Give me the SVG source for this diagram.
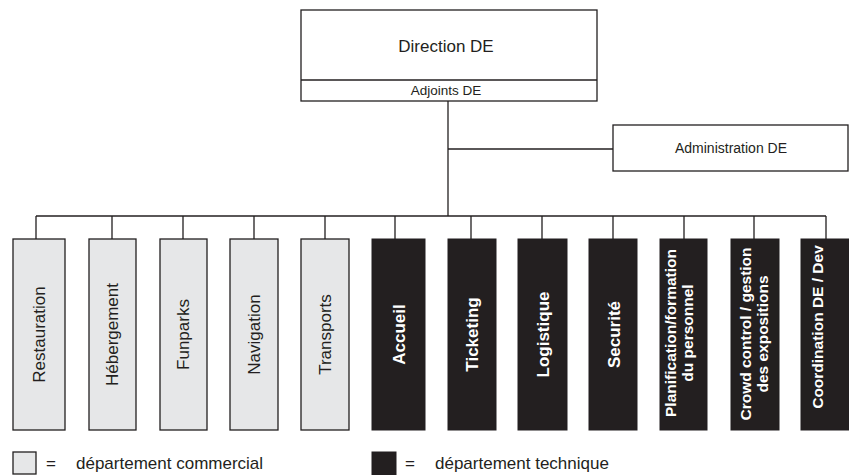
<svg xmlns="http://www.w3.org/2000/svg" width="849" height="475" viewBox="0 0 849 475">
<style>
  .box { fill: #ffffff; stroke: #231f20; stroke-width: 1.3; }
  .lt { fill: #e6e7e8; stroke: #231f20; stroke-width: 1.3; }
  .dk { fill: #231f20; stroke: #231f20; stroke-width: 1; }
  .ln { stroke: #231f20; stroke-width: 1.3; fill: none; }
  text { font-family: "Liberation Sans", Arial, sans-serif; }
  .tl { font-size: 17px; fill: #231f20; text-anchor: middle; }
  .tw { font-size: 17px; fill: #ffffff; font-weight: bold; text-anchor: middle; }
  .tw2 { font-size: 15.5px; fill: #ffffff; font-weight: bold; text-anchor: middle; }
  .lg { font-size: 17px; fill: #231f20; }
</style>
<g id="connectors">
  <path class="ln" d="M448 101 V216"/>
  <path class="ln" d="M448 149 H613"/>
  <path class="ln" d="M36 216 H826"/>
  <path class="ln" d="M36 216 V239 M112 216 V239 M183 216 V239 M254 216 V239 M325 216 V239 M395 216 V239 M471 216 V239 M542 216 V239 M613 216 V239 M684 216 V239 M754 216 V239 M826 216 V239"/>
</g>
<g id="direction">
  <rect class="box" x="301" y="10" width="296" height="91"/>
  <line class="ln" x1="301" y1="80" x2="597" y2="80"/>
  <text x="446" y="52" style="font-size:17px;fill:#231f20;text-anchor:middle">Direction DE</text>
  <text x="446" y="95" style="font-size:13.5px;fill:#231f20;text-anchor:middle">Adjoints DE</text>
</g>
<g id="administration">
  <rect class="box" x="613" y="125" width="235" height="46"/>
  <text x="731" y="153" style="font-size:14px;fill:#231f20;text-anchor:middle">Administration DE</text>
</g>
<g id="restauration">
  <rect class="lt" x="13" y="239" width="52" height="191"/>
  <text class="tl" transform="translate(45 334.5) rotate(-90)">Restauration</text>
</g>
<g id="hebergement">
  <rect class="lt" x="89" y="239" width="47" height="191"/>
  <text class="tl" transform="translate(118 334.5) rotate(-90)">Hébergement</text>
</g>
<g id="funparks">
  <rect class="lt" x="160" y="239" width="47" height="191"/>
  <text class="tl" transform="translate(189 334.5) rotate(-90)">Funparks</text>
</g>
<g id="navigation">
  <rect class="lt" x="230" y="239" width="48" height="191"/>
  <text class="tl" transform="translate(260 334.5) rotate(-90)">Navigation</text>
</g>
<g id="transports">
  <rect class="lt" x="301" y="239" width="48" height="191"/>
  <text class="tl" transform="translate(331 334.5) rotate(-90)">Transports</text>
</g>
<g id="accueil">
  <rect class="dk" x="372" y="239" width="53" height="191"/>
  <text class="tw" transform="translate(405 334.5) rotate(-90)">Accueil</text>
</g>
<g id="ticketing">
  <rect class="dk" x="448" y="239" width="48" height="191"/>
  <text class="tw" transform="translate(478 334.5) rotate(-90)">Ticketing</text>
</g>
<g id="logistique">
  <rect class="dk" x="518" y="239" width="49" height="191"/>
  <text class="tw" transform="translate(549 334.5) rotate(-90)">Logistique</text>
</g>
<g id="securite">
  <rect class="dk" x="589" y="239" width="48" height="191"/>
  <text class="tw" transform="translate(620 334.5) rotate(-90)">Securité</text>
</g>
<g id="planification">
  <rect class="dk" x="660" y="239" width="47" height="191"/>
  <text class="tw2" transform="translate(676 333) rotate(-90)">Planification/formation</text>
  <text class="tw2" transform="translate(693 333) rotate(-90)">du personnel</text>
</g>
<g id="crowd">
  <rect class="dk" x="731" y="239" width="48" height="191"/>
  <text class="tw2" transform="translate(751 334) rotate(-90)">Crowd control / gestion</text>
  <text class="tw2" transform="translate(768 334) rotate(-90)">des expositions</text>
</g>
<g id="coordination">
  <rect class="dk" x="801" y="239" width="48" height="191"/>
  <text class="tw2" transform="translate(823 327) rotate(-90)">Coordination DE / Dev</text>
</g>
<g id="legend">
  <rect class="lt" x="13" y="452" width="23" height="22"/>
  <text class="lg" x="46" y="469">=</text>
  <text class="lg" x="76" y="469">département commercial</text>
  <rect class="dk" x="372" y="452" width="24" height="23"/>
  <text class="lg" x="405" y="469">=</text>
  <text class="lg" x="435" y="469">département technique</text>
</g>
</svg>
